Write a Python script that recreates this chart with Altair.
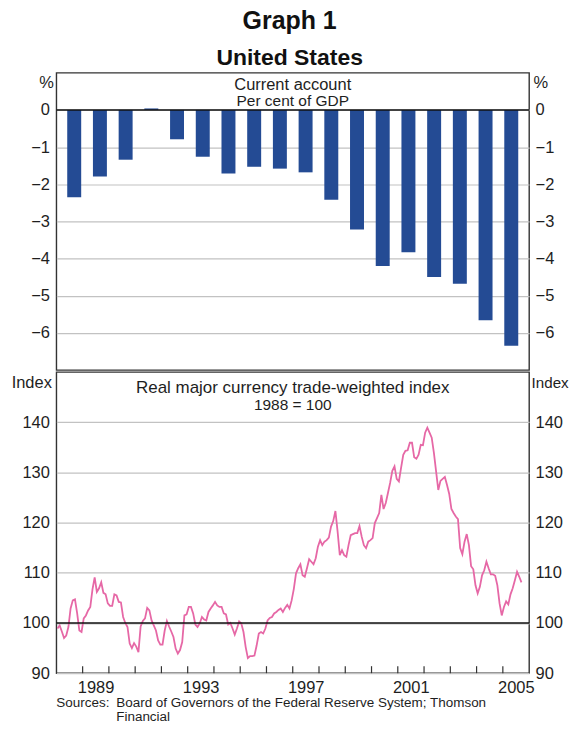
import altair as alt
import pandas as pd

# ---------------- data ----------------
years = list(range(1988, 2006))
current_account = [-2.35, -1.79, -1.34, 0.04, -0.79, -1.26, -1.71, -1.53, -1.58,
                   -1.68, -2.42, -3.22, -4.20, -3.83, -4.50, -4.68, -5.66, -6.35]

# Real major currency trade-weighted index, 1988 = 100 (monthly)
twi_1988 = [98.9, 99.5, 98.3, 97.0, 97.5, 99.2, 102.9, 104.5, 104.7, 101.9, 98.5, 98.2]
twi_1989 = [100.9, 101.5, 102.5, 103.2, 106.7, 109.1, 106.2, 106.9, 108.1, 106.0, 105.7, 103.9]
twi_1990 = [103.4, 103.4, 105.7, 105.5, 104.2, 104.1, 101.2, 100.0, 99.2, 95.9, 95.0, 96.0]
twi_1991 = [95.3, 94.2, 99.3, 100.4, 100.9, 103.0, 102.5, 100.5, 99.5, 98.5, 96.5, 95.7]
twi_1992 = [95.7, 98.5, 100.4, 99.3, 98.3, 97.2, 94.9, 93.9, 94.6, 96.2, 101.5, 101.7]
twi_1993 = [103.2, 103.2, 101.9, 99.7, 99.2, 99.9, 101.2, 100.7, 100.5, 102.2, 102.9, 103.5]
twi_1994 = [104.2, 103.5, 103.2, 103.2, 101.9, 101.7, 99.7, 100.0, 98.9, 97.7, 98.9, 100.3]
twi_1995 = [99.9, 98.2, 95.2, 93.0, 93.4, 93.4, 93.5, 95.5, 97.9, 98.2, 97.9, 98.9]
twi_1996 = [100.5, 101.0, 101.2, 101.9, 102.2, 102.6, 102.9, 102.2, 103.0, 103.6, 102.9, 104.5]
twi_1997 = [106.8, 109.9, 110.9, 111.7, 109.5, 109.2, 110.9, 112.7, 112.2, 111.7, 112.9, 115.2]
twi_1998 = [116.5, 115.5, 116.2, 116.5, 117.0, 119.2, 120.3, 122.3, 118.2, 113.5, 114.5, 113.5]
twi_1999 = [113.2, 115.5, 117.5, 117.7, 117.9, 117.9, 119.3, 117.2, 115.5, 114.9, 116.2, 116.5]
twi_2000 = [116.9, 119.9, 120.9, 121.9, 125.5, 122.7, 123.9, 125.9, 127.9, 130.3, 131.2, 128.7]
twi_2001 = [128.2, 130.9, 133.5, 134.3, 134.4, 135.9, 135.9, 133.0, 132.7, 133.5, 135.5, 135.4]
twi_2002 = [137.9, 138.9, 137.9, 136.9, 133.9, 130.2, 126.5, 128.3, 128.7, 129.1, 127.5, 125.7]
twi_2003 = [122.7, 121.9, 121.2, 120.7, 114.9, 113.7, 116.2, 117.7, 115.5, 111.3, 110.7, 107.5]
twi_2004 = [105.9, 107.2, 109.5, 110.5, 112.2, 110.9, 109.7, 109.7, 109.4, 107.5, 103.9, 101.5]
twi_2005 = [103.2, 104.3, 103.7, 105.7, 106.9, 108.5, 110.2, 109.2, 108.1]

label_years = [1989, 1993, 1997, 2001, 2005]
tick_years = list(range(1989, 2006))
top_ticks = [0, -1, -2, -3, -4, -5, -6]
bottom_ticks = [90, 100, 110, 120, 130, 140]

# ---------------- style ----------------
FONT = "Liberation Sans"
W, H1, H2 = 474, 298, 302
BAR_BLUE = "#244b94"
PINK = "#e668a6"
GRID = "#c2c2c2"
FRAME = "#333333"
TXT = "#1e1e1e"
LBL = 16.5

ca = pd.DataFrame({"year": years, "value": current_account})
ca["mid"] = ca["year"] + 0.5

series = [twi_1988, twi_1989, twi_1990, twi_1991, twi_1992, twi_1993, twi_1994,
          twi_1995, twi_1996, twi_1997, twi_1998, twi_1999, twi_2000, twi_2001,
          twi_2002, twi_2003, twi_2004, twi_2005]
rows = []
for yr, vals in zip(years, series):
    for m, v in enumerate(vals):
        rows.append({"t": yr + (m + 0.5) / 12.0, "v": v})
twi = pd.DataFrame(rows)

xscale = alt.Scale(domain=[1988, 2006], nice=False, zero=False)
ytop = alt.Scale(domain=[-7, 1], nice=False, zero=False)
ybot = alt.Scale(domain=[90, 150], nice=False, zero=False)

common = dict(labelFont=FONT, labelFontSize=LBL, labelColor=TXT, ticks=False, tickSize=0,
              domain=False, titleFont=FONT, titleFontWeight="normal",
              titleColor=TXT, titleAngle=0, titleBaseline="alphabetic", labelFlush=False)


def left_axis(vals, title, tx, ty):
    return alt.Axis(orient="left", values=vals, grid=True, gridColor=GRID, gridWidth=1.2,
                    labelPadding=7, title=title, titleAlign="right", titleX=tx, titleY=ty,
                    titleFontSize=LBL, **common)


def right_axis(vals, title, tx, ty, size):
    return alt.Axis(orient="right", values=vals, grid=False, labelPadding=6, title=title,
                    titleAlign="left", titleX=tx, titleY=ty, titleFontSize=size, **common)


def label(text, x, y, size, align="center", lh=16.5):
    return alt.Chart(pd.DataFrame({"s": [0]})).mark_text(
        font=FONT, fontSize=size, color=TXT, align=align, baseline="alphabetic",
        lineHeight=lh
    ).encode(text=alt.value(text), x=alt.value(x), y=alt.value(y))


# ---------------- top panel ----------------
bars = alt.Chart(ca).mark_bar(size=14, color=BAR_BLUE).encode(
    x=alt.X("mid:Q", scale=xscale, axis=None),
    y=alt.Y("value:Q", scale=ytop, axis=left_axis(top_ticks, "%", -3, 15)),
)
zero = alt.Chart(pd.DataFrame({"value": [0]})).mark_rule(color="#111", strokeWidth=1.5).encode(
    y=alt.Y("value:Q", scale=ytop, axis=right_axis(top_ticks, "%", 4, 15, LBL)),
)
top = alt.layer(
    bars, zero,
    label("Current account", W / 2, 17.5, 16.5),
    label("Per cent of GDP", W / 2, 33.5, 15.5),
).resolve_axis(y="independent").properties(width=W, height=H1)

# ---------------- bottom panel ----------------
xaxis_common = {k: v for k, v in common.items() if not k.startswith("title")}
line = alt.Chart(twi).mark_line(color=PINK, strokeWidth=1.8).encode(
    x=alt.X("t:Q", scale=xscale,
            axis=alt.Axis(values=label_years, format="d", labelOffset=13, labelPadding=6,
                          grid=False, labelOverlap=False, title=None, **xaxis_common)),
    y=alt.Y("v:Q", scale=ybot, axis=left_axis(bottom_ticks, "Index", -5, 16)),
)
hundred = alt.Chart(pd.DataFrame({"v": [100]})).mark_rule(color="#111", strokeWidth=1.5).encode(
    y=alt.Y("v:Q", scale=ybot, axis=right_axis(bottom_ticks, "Index", 2, 16, 15.2)),
)
xticks = alt.Chart(pd.DataFrame({"t": tick_years})).mark_rule(color=FRAME, strokeWidth=1.2).encode(
    x=alt.X("t:Q", scale=xscale),
    y=alt.value(H2),
    y2=alt.value(H2 - 7),
)
bottom = alt.layer(
    line, hundred, xticks,
    label("Real major currency trade-weighted index", W / 2, 21, 17),
    label("1988 = 100", W / 2, 38.5, 15.5),
    label("Sources:", 0, H2 + 33.5, 13.5, align="left"),
    label(["Board of Governors of the Federal Reserve System; Thomson", "Financial"],
          60, H2 + 33.5, 13.5, align="left", lh=14),
).resolve_axis(y="independent").properties(width=W, height=H2)

chart = alt.vconcat(
    top, bottom, spacing=0,
    title=alt.TitleParams(
        text="Graph 1", subtitle="United States", font=FONT, fontSize=25, fontWeight="bold",
        color="#111", subtitleFont=FONT, subtitleFontSize=23, subtitleFontWeight="bold",
        subtitleColor="#111", subtitlePadding=13, offset=2, anchor="middle",
    ),
).properties(
    padding={"left": 1.5, "right": 0, "top": 0, "bottom": -2.8}
).configure(font=FONT).configure_view(stroke=FRAME, strokeWidth=1.4)

chart.save("out.html", embed_options={"renderer": "svg", "actions": False})
